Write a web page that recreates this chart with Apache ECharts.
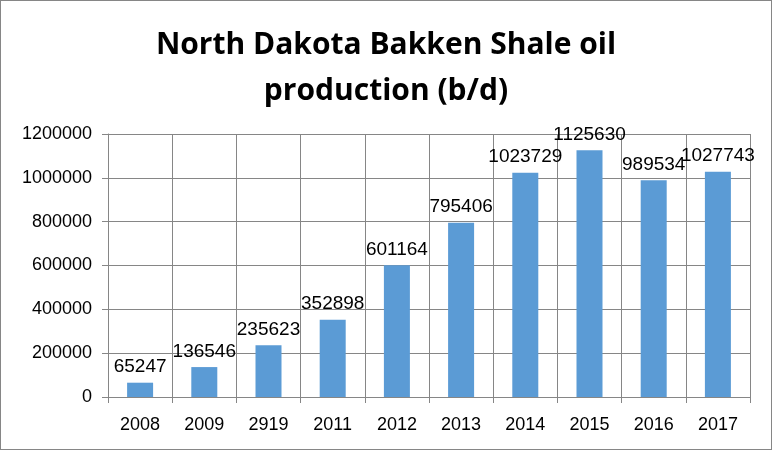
<!DOCTYPE html>
<html><head><meta charset="utf-8">
<script src="https://cdn.jsdelivr.net/npm/echarts@6/dist/echarts.min.js"></script>
<style>html,body{margin:0;padding:0;background:#fff}#c{width:772px;height:450px;box-sizing:border-box;border:1px solid #868686}</style>
</head><body><div id="c"></div>
<script>
const categories = ['2008','2009','2919','2011','2012','2013','2014','2015','2016','2017'];
const production = [65247,136546,235623,352898,601164,795406,1023729,1125630,989534,1027743];
const titleText = 'North Dakota Bakken Shale oil\nproduction (b/d)';
const chart = echarts.init(document.getElementById('c'));
const font = 'Liberation Sans, Arial, sans-serif';
chart.setOption({
  animation:false,
  title:{text:titleText,left:'center',top:16,textStyle:{fontFamily:'Open Sans, Liberation Sans, sans-serif',fontWeight:'bold',fontSize:30,lineHeight:46,color:'#000'}},
  grid:{left:107,right:21,top:133,bottom:52},
  xAxis:{type:'category',data:categories,
    axisLine:{lineStyle:{color:'#868686'}},
    axisTick:{show:true,length:6,lineStyle:{color:'#868686'}},
    splitLine:{show:true,lineStyle:{color:'#868686'}},
    axisLabel:{color:'#000',fontSize:18,fontFamily:font,margin:19}},
  yAxis:{type:'value',min:0,max:1200000,interval:200000,
    axisLine:{show:true,lineStyle:{color:'#868686'}},
    axisTick:{show:true,length:6,lineStyle:{color:'#868686'}},
    splitLine:{lineStyle:{color:'#868686'}},
    axisLabel:{color:'#000',fontSize:18,fontFamily:font,margin:16,formatter:v=>String(v)}},
  series:[{type:'bar',data:production,barWidth:26,
    itemStyle:{color:'#5B9BD5'},
    label:{show:true,position:'top',color:'#000',fontSize:19,fontFamily:font,distance:6}}]
});
</script></body></html>
